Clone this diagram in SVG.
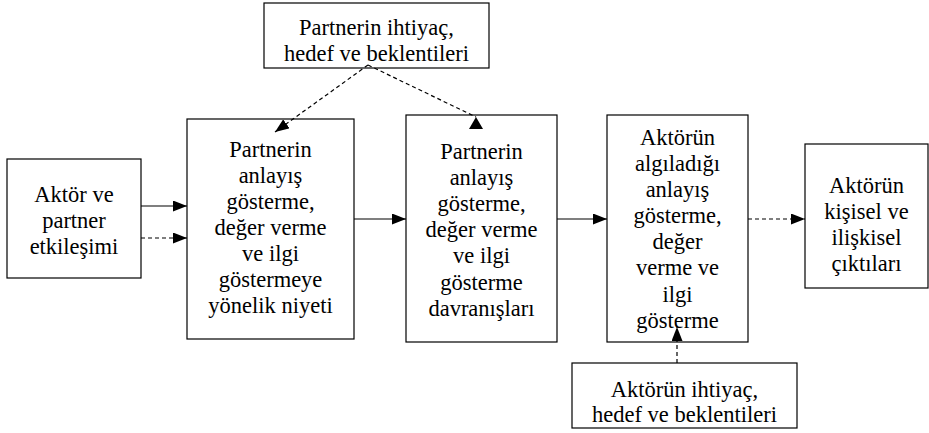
<svg xmlns="http://www.w3.org/2000/svg" width="929" height="433" viewBox="0 0 929 433">
<defs>
<style>
.box{fill:#fff;stroke:#000;stroke-width:1.2}
.t{font-family:'Liberation Serif','DejaVu Serif',serif;font-size:22.5px;fill:#000;text-anchor:middle}
.c{fill:none;stroke:#000;stroke-width:1.2}
.d{stroke-dasharray:4 3}
</style>
<marker id="ah" markerUnits="userSpaceOnUse" markerWidth="14" markerHeight="11" refX="14" refY="5.5" orient="auto">
<path d="M0,0 L14,5.5 L0,11 z" fill="#000"/>
</marker>
<marker id="ahUp" markerUnits="userSpaceOnUse" markerWidth="14" markerHeight="14" refX="12" refY="7" orient="270">
<path d="M0,0 L12,7 L0,14 z" fill="#000"/>
</marker>
</defs>
<rect width="929" height="433" fill="#fff"/>

<g id="n-top">
<rect class="box" x="264" y="3" width="225" height="65"/>
<text class="t" x="376.5" y="35">Partnerin ihtiyaç,</text>
<text class="t" x="376.5" y="61">hedef ve beklentileri</text>
</g>

<g id="n-etkilesim">
<rect class="box" x="7" y="159" width="134" height="119"/>
<text class="t" x="74" y="202">Aktör ve</text>
<text class="t" x="74" y="228">partner</text>
<text class="t" x="74" y="254">etkileşimi</text>
</g>

<g id="n-niyet">
<rect class="box" x="187" y="119" width="167" height="220"/>
<text class="t" x="270.5" y="157">Partnerin</text>
<text class="t" x="270.5" y="183">anlayış</text>
<text class="t" x="270.5" y="209">gösterme,</text>
<text class="t" x="270.5" y="235">değer verme</text>
<text class="t" x="270.5" y="261">ve ilgi</text>
<text class="t" x="270.5" y="287">göstermeye</text>
<text class="t" x="270.5" y="313">yönelik niyeti</text>
</g>

<g id="n-davranis">
<rect class="box" x="406" y="115" width="151" height="227"/>
<text class="t" x="481.5" y="159">Partnerin</text>
<text class="t" x="481.5" y="185">anlayış</text>
<text class="t" x="481.5" y="211">gösterme,</text>
<text class="t" x="481.5" y="237">değer verme</text>
<text class="t" x="481.5" y="263">ve ilgi</text>
<text class="t" x="481.5" y="290">gösterme</text>
<text class="t" x="481.5" y="316">davranışları</text>
</g>

<g id="n-algi">
<rect class="box" x="607" y="115" width="141" height="227"/>
<text class="t" x="677.5" y="145">Aktörün</text>
<text class="t" x="677.5" y="171">algıladığı</text>
<text class="t" x="677.5" y="197">anlayış</text>
<text class="t" x="677.5" y="223">gösterme,</text>
<text class="t" x="677.5" y="249">değer</text>
<text class="t" x="677.5" y="275">verme ve</text>
<text class="t" x="677.5" y="302">ilgi</text>
<text class="t" x="677.5" y="328">gösterme</text>
</g>

<g id="n-cikti">
<rect class="box" x="805" y="144" width="123" height="144"/>
<text class="t" x="866.5" y="193">Aktörün</text>
<text class="t" x="866.5" y="219">kişisel ve</text>
<text class="t" x="866.5" y="245">ilişkisel</text>
<text class="t" x="866.5" y="271">çıktıları</text>
</g>

<g id="n-aktor-ihtiyac">
<rect class="box" x="572" y="363" width="225" height="65"/>
<text class="t" x="684.5" y="397">Aktörün ihtiyaç,</text>
<text class="t" x="684.5" y="422">hedef ve beklentileri</text>
</g>

<g id="connectors">
<line class="c" x1="141" y1="206" x2="187" y2="206" marker-end="url(#ah)"/>
<line class="c d" x1="141" y1="238" x2="187" y2="238" marker-end="url(#ah)"/>
<line class="c" x1="354" y1="219" x2="406" y2="219" marker-end="url(#ah)"/>
<line class="c" x1="557" y1="219" x2="607" y2="219" marker-end="url(#ah)"/>
<line class="c d" x1="748" y1="219" x2="805" y2="219" marker-end="url(#ah)"/>
<line class="c d" x1="368" y1="65" x2="275" y2="132" marker-end="url(#ah)"/>
<line class="c d" x1="368" y1="65" x2="476" y2="117" marker-end="url(#ahUp)"/>
<line class="c d" x1="677" y1="363" x2="677" y2="327" marker-end="url(#ah)"/>
</g>
</svg>
